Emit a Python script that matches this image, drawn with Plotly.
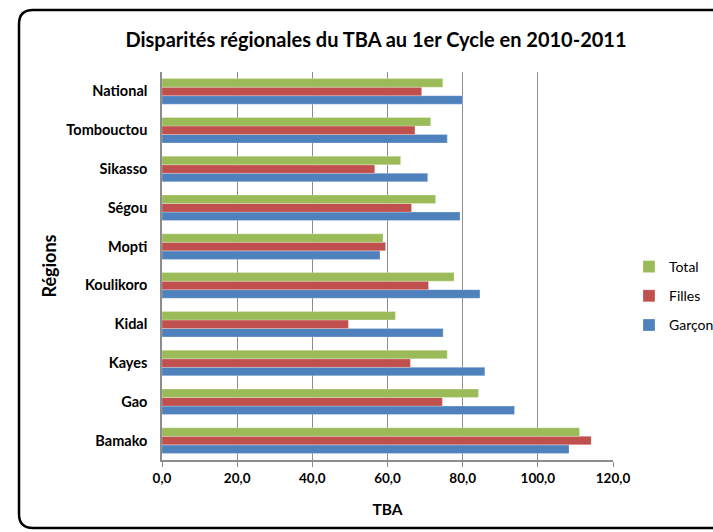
import plotly.graph_objects as go

regions = ["Bamako", "Gao", "Kayes", "Kidal", "Koulikoro", "Mopti", "Ségou", "Sikasso", "Tombouctou", "National"]
garcon = [108.3, 93.8, 85.9, 74.8, 84.6, 58.0, 79.3, 70.7, 75.9, 80.0]
filles = [114.2, 74.6, 66.1, 49.6, 70.9, 59.5, 66.4, 56.6, 67.3, 69.1]
total = [111.1, 84.2, 75.9, 62.1, 77.7, 58.8, 72.8, 63.5, 71.5, 74.7]
x_tickvals = [0, 20, 40, 60, 80, 100, 120]
x_ticktext = ["0,0", "20,0", "40,0", "60,0", "80,0", "100,0", "120,0"]

FONT = "Lato"
W, H = 713, 532
L, R, T, B = 162, 100, 72, 72
PW, PH = W - L - R, H - T - B

fig = go.Figure()
series = [("Garçon", garcon, "#4F81BD", 3), ("Filles", filles, "#C0504D", 2), ("Total", total, "#9BBB59", 1)]
for name, vals, col, rank in series:
    fig.add_trace(go.Bar(
        y=regions, x=vals, name=name, orientation="h",
        marker=dict(color=col, line=dict(color="rgba(255,255,255,0.5)", width=0.5)),
        legendgroup=name, legendrank=rank,
    ))

def px2paper(px, py):
    return (px - L) / PW, (H - B - py) / PH

# rounded border (decoration)
x0, y0 = px2paper(19, 10)
x1, y1 = px2paper(730, 528)
rx = 14 / PW
ry = 14 / PH
path = (f"M {x0+rx},{y0} L {x1},{y0} M {x0+rx},{y0} Q {x0},{y0} {x0},{y0-ry} "
        f"L {x0},{y1+ry} Q {x0},{y1} {x0+rx},{y1} L {x1},{y1}")

fig.update_layout(
    width=W, height=H,
    margin=dict(l=L, r=R, t=T, b=B, autoexpand=False),
    paper_bgcolor="white", plot_bgcolor="white",
    barmode="group", bargap=0.34, bargroupgap=0,
    font=dict(family=FONT, color="#000000"),
    title=dict(text="Disparités régionales du TBA au 1er Cycle en 2010-2011",
               x=376 / W, xanchor="center", xref="container",
               y=1 - 40 / H, yanchor="middle",
               font=dict(family=FONT, size=20, color="#000000", weight="bold")),
    legend=dict(traceorder="grouped", x=(629 - L) / PW, xanchor="left",
                y=(H - B - 296) / PH, yanchor="middle", tracegroupgap=8,
                font=dict(family=FONT, size=14, color="#000000"),
                itemwidth=30, bgcolor="rgba(0,0,0,0)"),
    showlegend=True,
    shapes=[dict(type="path", path=path, xref="paper", yref="paper",
                 line=dict(color="#000000", width=2.5), layer="above")],
)
fig.update_xaxes(range=[0, 120], tickvals=x_tickvals, ticktext=x_ticktext,
                 showgrid=True, gridcolor="#8C8C8C", gridwidth=1,
                 showline=True, linecolor="#8C8C8C", linewidth=1.5,
                 ticks="outside", ticklen=5, tickcolor="#8C8C8C",
                 tickfont=dict(family=FONT, size=13.5, color="#000000", weight="bold"),
                 title=dict(text="TBA", font=dict(family=FONT, size=15.5, color="#000000", weight="bold"),
                            standoff=19),
                 zeroline=False, fixedrange=True)
fig.update_yaxes(showline=True, linecolor="#8C8C8C", linewidth=1.5,
                 showgrid=False, ticks="", ticklabelstandoff=10,
                 tickfont=dict(family=FONT, size=14.5, color="#000000", weight="bold"),
                 title=dict(text="Régions", font=dict(family=FONT, size=18, color="#000000", weight="bold"),
                            standoff=5),
                 fixedrange=True)

fig.write_html("out.html", config={"displayModeBar": False},
               post_script="document.body.style.margin='0px';")
